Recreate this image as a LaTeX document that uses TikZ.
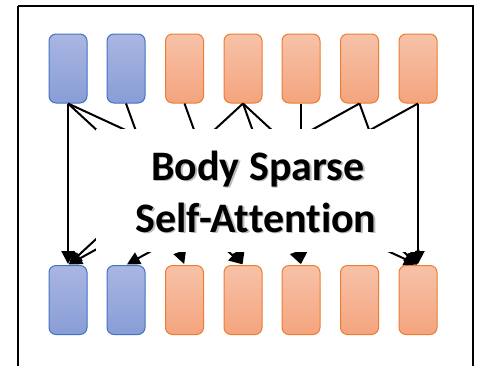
\documentclass[tikz,border=0pt]{standalone}
\usepackage{fontspec}
\setmainfont[Ligatures=NoCommon]{Carlito}
\usetikzlibrary{arrows.meta}
\definecolor{bluetop}{RGB}{170,182,226}
\definecolor{bluebot}{RGB}{136,157,214}
\definecolor{blueedge}{RGB}{68,114,196}
\definecolor{ortop}{RGB}{247,194,168}
\definecolor{orbot}{RGB}{244,164,126}
\definecolor{oredge}{RGB}{237,125,49}
\tikzset{
  tok/.style={minimum width=38pt,minimum height=69pt,rounded corners=7pt,line width=1pt,inner sep=0pt},
  bluetok/.style={tok,draw=blueedge,top color=bluetop,bottom color=bluebot},
  ortok/.style={tok,draw=oredge,top color=ortop,bottom color=orbot},
  att/.style={line width=2pt,-{Triangle[length=13pt,width=13pt]},shorten >=1pt},
  title/.style={font=\fontsize{42}{50}\selectfont\bfseries,inner sep=0pt,anchor=base},
  shadowtxt/.style={title,text=black!45,opacity=0.6}
}
\begin{document}
\begin{tikzpicture}[x=1pt,y=-1pt]
\clip (0,0) rectangle (490,365);
\fill[white] (0,0) rectangle (490,365);
\draw[line width=2pt] (18,6) -- (473,6) -- (473,380) (18,6) -- (18,380);
% tokens
\foreach \i/\x/\s in {1/68/bluetok,2/126/bluetok,3/184.5/ortok,4/243/ortok,5/301/ortok,6/359.5/ortok,7/418/ortok}{
  \node[\s] (t\i) at (\x,68.5) {};
  \node[\s] (b\i) at (\x,300) {};
}
% attention connections
\foreach \a/\b in {1/1,1/4,1/7,2/3,3/4,4/1,4/5,4/7,5/5,6/1,6/7,7/2,7/7}{
  \draw[att] (t\a.south) -- (b\b.north);
}
% white panel
\node[fill=white,minimum width=319pt,minimum height=123pt,inner sep=0pt] (panel) at (255.5,190.5) {};
\node[shadowtxt] (s1) at (259.5,181.5) {Body Sparse};
\node[shadowtxt] (s2) at (257.5,233.5) {Self-Attention};
\node[title] (l1) at (258,180) {Body Sparse};
\node[title] (l2) at (256,232) {Self-Attention};
\end{tikzpicture}
\end{document}
